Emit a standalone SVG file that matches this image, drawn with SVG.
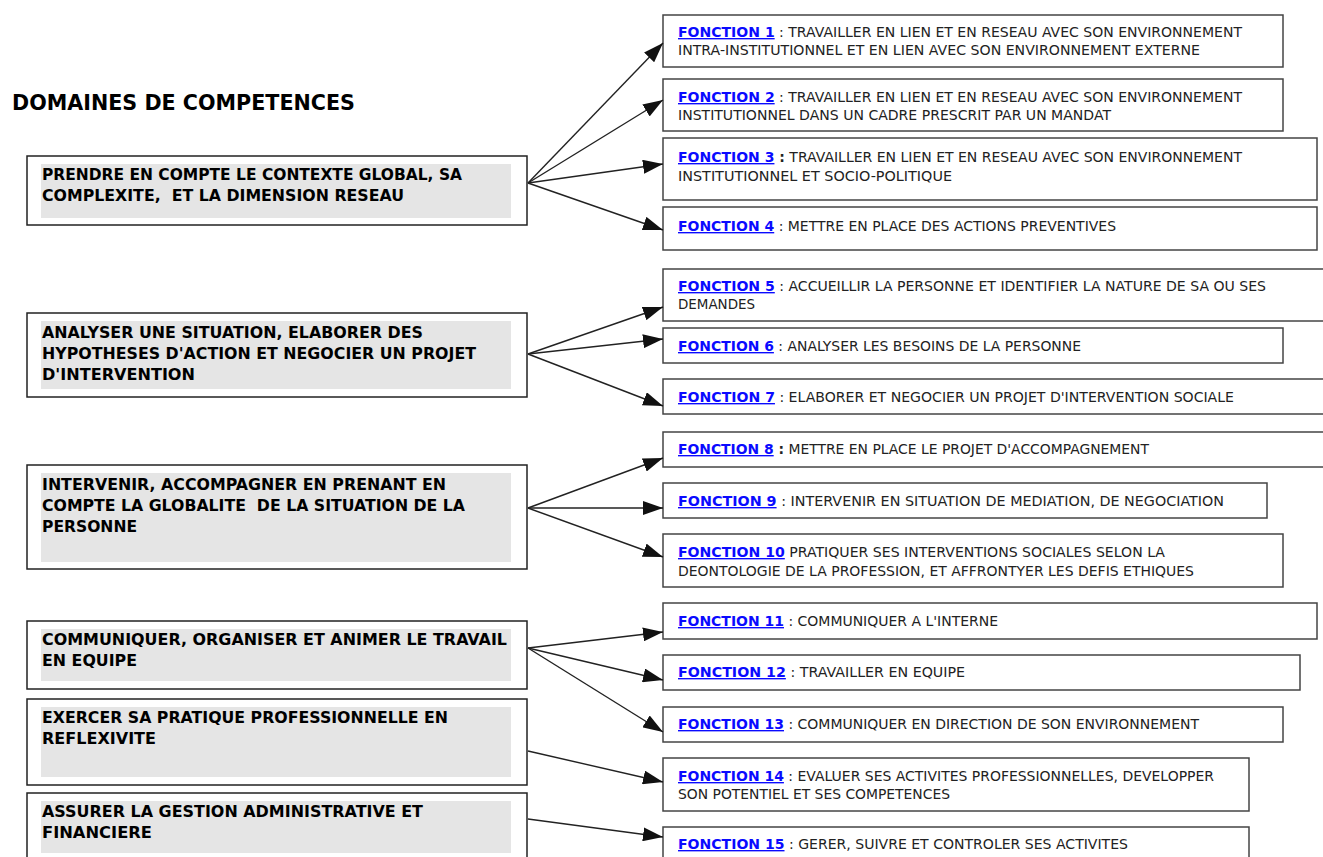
<svg xmlns="http://www.w3.org/2000/svg" width="1323" height="857" viewBox="0 0 1323 857">
<style>
.title{font-family:"DejaVu Sans","Liberation Sans",sans-serif;font-weight:bold;font-size:21px;fill:#000}
.dom{fill:#fff;stroke:#222;stroke-width:1.5}
.gray{fill:#e5e5e5}
.dt{font-family:"DejaVu Sans","Liberation Sans",sans-serif;font-weight:bold;font-size:15px;fill:#000;white-space:pre}
.fn{fill:#fff;stroke:#444;stroke-width:1.5}
.ft{font-family:"DejaVu Sans","Liberation Sans",sans-serif;font-size:13.8px;fill:#222}
.lk{fill:#0a0aff;font-weight:bold;text-decoration:underline}
.b{font-weight:bold}
.conn line{stroke:#222;stroke-width:1.4;marker-end:url(#ah)}
</style>
<defs>
<marker id="ah" markerUnits="userSpaceOnUse" markerWidth="20" markerHeight="14" refX="20" refY="7" orient="auto">
<path d="M0,0 L20,7 L0,14 z" fill="#111"/>
</marker>
</defs>
<rect width="1323" height="857" fill="#fff"/>
<text class="title" x="12" y="110" textLength="343" lengthAdjust="spacingAndGlyphs">DOMAINES DE COMPETENCES</text>

<g id="d1">
<rect class="dom" x="27" y="156" width="500" height="69"/>
<rect class="gray" x="41" y="164" width="470" height="54"/>
<text class="dt" x="42" y="180" textLength="420" lengthAdjust="spacingAndGlyphs">PRENDRE EN COMPTE LE CONTEXTE GLOBAL, SA</text>
<text class="dt" x="42" y="201" textLength="362" lengthAdjust="spacingAndGlyphs">COMPLEXITE,  ET LA DIMENSION RESEAU</text>
</g>
<g id="d2">
<rect class="dom" x="27" y="313" width="500" height="84"/>
<rect class="gray" x="41" y="321" width="470" height="68"/>
<text class="dt" x="42" y="338" textLength="381" lengthAdjust="spacingAndGlyphs">ANALYSER UNE SITUATION, ELABORER DES</text>
<text class="dt" x="42" y="359" textLength="434" lengthAdjust="spacingAndGlyphs">HYPOTHESES D'ACTION ET NEGOCIER UN PROJET</text>
<text class="dt" x="42" y="380" textLength="153" lengthAdjust="spacingAndGlyphs">D'INTERVENTION</text>
</g>
<g id="d3">
<rect class="dom" x="27" y="465" width="500" height="104"/>
<rect class="gray" x="41" y="473" width="470" height="89"/>
<text class="dt" x="42" y="490" textLength="404" lengthAdjust="spacingAndGlyphs">INTERVENIR, ACCOMPAGNER EN PRENANT EN</text>
<text class="dt" x="42" y="511" textLength="423" lengthAdjust="spacingAndGlyphs">COMPTE LA GLOBALITE  DE LA SITUATION DE LA</text>
<text class="dt" x="42" y="532" textLength="95" lengthAdjust="spacingAndGlyphs">PERSONNE</text>
</g>
<g id="d4">
<rect class="dom" x="27" y="621" width="500" height="68"/>
<rect class="gray" x="41" y="629" width="470" height="52"/>
<text class="dt" x="42" y="645" textLength="465" lengthAdjust="spacingAndGlyphs">COMMUNIQUER, ORGANISER ET ANIMER LE TRAVAIL</text>
<text class="dt" x="42" y="666" textLength="95" lengthAdjust="spacingAndGlyphs">EN EQUIPE</text>
</g>
<g id="d5">
<rect class="dom" x="27" y="699" width="500" height="86"/>
<rect class="gray" x="41" y="707" width="470" height="70"/>
<text class="dt" x="42" y="723" textLength="406" lengthAdjust="spacingAndGlyphs">EXERCER SA PRATIQUE PROFESSIONNELLE EN</text>
<text class="dt" x="42" y="744" textLength="114" lengthAdjust="spacingAndGlyphs">REFLEXIVITE</text>
</g>
<g id="d6">
<rect class="dom" x="27" y="793" width="500" height="80"/>
<rect class="gray" x="41" y="801" width="470" height="52"/>
<text class="dt" x="42" y="817" textLength="381" lengthAdjust="spacingAndGlyphs">ASSURER LA GESTION ADMINISTRATIVE ET</text>
<text class="dt" x="42" y="838" textLength="110" lengthAdjust="spacingAndGlyphs">FINANCIERE</text>
</g>

<g id="f1">
<rect class="fn" x="663" y="15" width="620" height="52"/>
<text class="ft" x="678" y="37" textLength="564" lengthAdjust="spacingAndGlyphs"><tspan class="lk">FONCTION 1</tspan> : TRAVAILLER EN LIEN ET EN RESEAU AVEC SON ENVIRONNEMENT</text>
<text class="ft" x="678" y="55" textLength="522" lengthAdjust="spacingAndGlyphs">INTRA-INSTITUTIONNEL ET EN LIEN AVEC SON ENVIRONNEMENT EXTERNE</text>
</g>
<g id="f2">
<rect class="fn" x="663" y="79" width="620" height="52"/>
<text class="ft" x="678" y="102" textLength="564" lengthAdjust="spacingAndGlyphs"><tspan class="lk">FONCTION 2</tspan> : TRAVAILLER EN LIEN ET EN RESEAU AVEC SON ENVIRONNEMENT</text>
<text class="ft" x="678" y="120" textLength="433" lengthAdjust="spacingAndGlyphs">INSTITUTIONNEL DANS UN CADRE PRESCRIT PAR UN MANDAT</text>
</g>
<g id="f3">
<rect class="fn" x="663" y="138" width="654" height="62"/>
<text class="ft" x="678" y="162" textLength="564" lengthAdjust="spacingAndGlyphs"><tspan class="lk">FONCTION 3</tspan><tspan class="b"> :</tspan> TRAVAILLER EN LIEN ET EN RESEAU AVEC SON ENVIRONNEMENT</text>
<text class="ft" x="678" y="181" textLength="274" lengthAdjust="spacingAndGlyphs">INSTITUTIONNEL ET SOCIO-POLITIQUE</text>
</g>
<g id="f4">
<rect class="fn" x="663" y="207" width="654" height="43"/>
<text class="ft" x="678" y="231" textLength="438" lengthAdjust="spacingAndGlyphs"><tspan class="lk">FONCTION 4</tspan> : METTRE EN PLACE DES ACTIONS PREVENTIVES</text>
</g>
<g id="f5">
<rect class="fn" x="663" y="269" width="670" height="52"/>
<text class="ft" x="678" y="291" textLength="588" lengthAdjust="spacingAndGlyphs"><tspan class="lk">FONCTION 5</tspan> : ACCUEILLIR LA PERSONNE ET IDENTIFIER LA NATURE DE SA OU SES</text>
<text class="ft" x="678" y="309" textLength="77" lengthAdjust="spacingAndGlyphs">DEMANDES</text>
</g>
<g id="f6">
<rect class="fn" x="663" y="328" width="620" height="35"/>
<text class="ft" x="678" y="351" textLength="403" lengthAdjust="spacingAndGlyphs"><tspan class="lk">FONCTION 6</tspan> : ANALYSER LES BESOINS DE LA PERSONNE</text>
</g>
<g id="f7">
<rect class="fn" x="663" y="379" width="670" height="35"/>
<text class="ft" x="678" y="402" textLength="556" lengthAdjust="spacingAndGlyphs"><tspan class="lk">FONCTION 7</tspan> : ELABORER ET NEGOCIER UN PROJET D'INTERVENTION SOCIALE</text>
</g>
<g id="f8">
<rect class="fn" x="663" y="432" width="670" height="35"/>
<text class="ft" x="678" y="454" textLength="471" lengthAdjust="spacingAndGlyphs"><tspan class="lk">FONCTION 8</tspan><tspan class="b"> :</tspan> METTRE EN PLACE LE PROJET D'ACCOMPAGNEMENT</text>
</g>
<g id="f9">
<rect class="fn" x="663" y="483" width="604" height="35"/>
<text class="ft" x="678" y="506" textLength="546" lengthAdjust="spacingAndGlyphs"><tspan class="lk">FONCTION 9</tspan> : INTERVENIR EN SITUATION DE MEDIATION, DE NEGOCIATION</text>
</g>
<g id="f10">
<rect class="fn" x="663" y="534" width="620" height="53"/>
<text class="ft" x="678" y="557" textLength="487" lengthAdjust="spacingAndGlyphs"><tspan class="lk">FONCTION 10</tspan> PRATIQUER SES INTERVENTIONS SOCIALES SELON LA</text>
<text class="ft" x="678" y="576" textLength="516" lengthAdjust="spacingAndGlyphs">DEONTOLOGIE DE LA PROFESSION, ET AFFRONTYER LES DEFIS ETHIQUES</text>
</g>
<g id="f11">
<rect class="fn" x="663" y="603" width="654" height="36"/>
<text class="ft" x="678" y="626" textLength="320" lengthAdjust="spacingAndGlyphs"><tspan class="lk">FONCTION 11</tspan> : COMMUNIQUER A L'INTERNE</text>
</g>
<g id="f12">
<rect class="fn" x="663" y="655" width="637" height="35"/>
<text class="ft" x="678" y="677" textLength="287" lengthAdjust="spacingAndGlyphs"><tspan class="lk">FONCTION 12</tspan> : TRAVAILLER EN EQUIPE</text>
</g>
<g id="f13">
<rect class="fn" x="663" y="707" width="620" height="35"/>
<text class="ft" x="678" y="729" textLength="521" lengthAdjust="spacingAndGlyphs"><tspan class="lk">FONCTION 13</tspan> : COMMUNIQUER EN DIRECTION DE SON ENVIRONNEMENT</text>
</g>
<g id="f14">
<rect class="fn" x="663" y="758" width="586" height="53"/>
<text class="ft" x="678" y="781" textLength="536" lengthAdjust="spacingAndGlyphs"><tspan class="lk">FONCTION 14</tspan> : EVALUER SES ACTIVITES PROFESSIONNELLES, DEVELOPPER</text>
<text class="ft" x="678" y="799" textLength="272" lengthAdjust="spacingAndGlyphs">SON POTENTIEL ET SES COMPETENCES</text>
</g>
<g id="f15">
<rect class="fn" x="663" y="827" width="586" height="45"/>
<text class="ft" x="678" y="849" textLength="450" lengthAdjust="spacingAndGlyphs"><tspan class="lk">FONCTION 15</tspan> : GERER, SUIVRE ET CONTROLER SES ACTIVITES</text>
</g>

<g class="conn" id="connectors">
<line x1="528" y1="183" x2="663" y2="43"/>
<line x1="528" y1="183" x2="663" y2="100"/>
<line x1="528" y1="183" x2="663" y2="164"/>
<line x1="528" y1="183" x2="663" y2="230"/>
<line x1="528" y1="354" x2="663" y2="307"/>
<line x1="528" y1="354" x2="663" y2="339"/>
<line x1="528" y1="354" x2="663" y2="406"/>
<line x1="528" y1="508" x2="663" y2="458"/>
<line x1="528" y1="508" x2="663" y2="508"/>
<line x1="528" y1="508" x2="663" y2="557"/>
<line x1="528" y1="648" x2="663" y2="632"/>
<line x1="528" y1="648" x2="663" y2="680"/>
<line x1="528" y1="648" x2="663" y2="732"/>
<line x1="528" y1="751" x2="663" y2="782"/>
<line x1="528" y1="819" x2="663" y2="837"/>
</g>
</svg>
